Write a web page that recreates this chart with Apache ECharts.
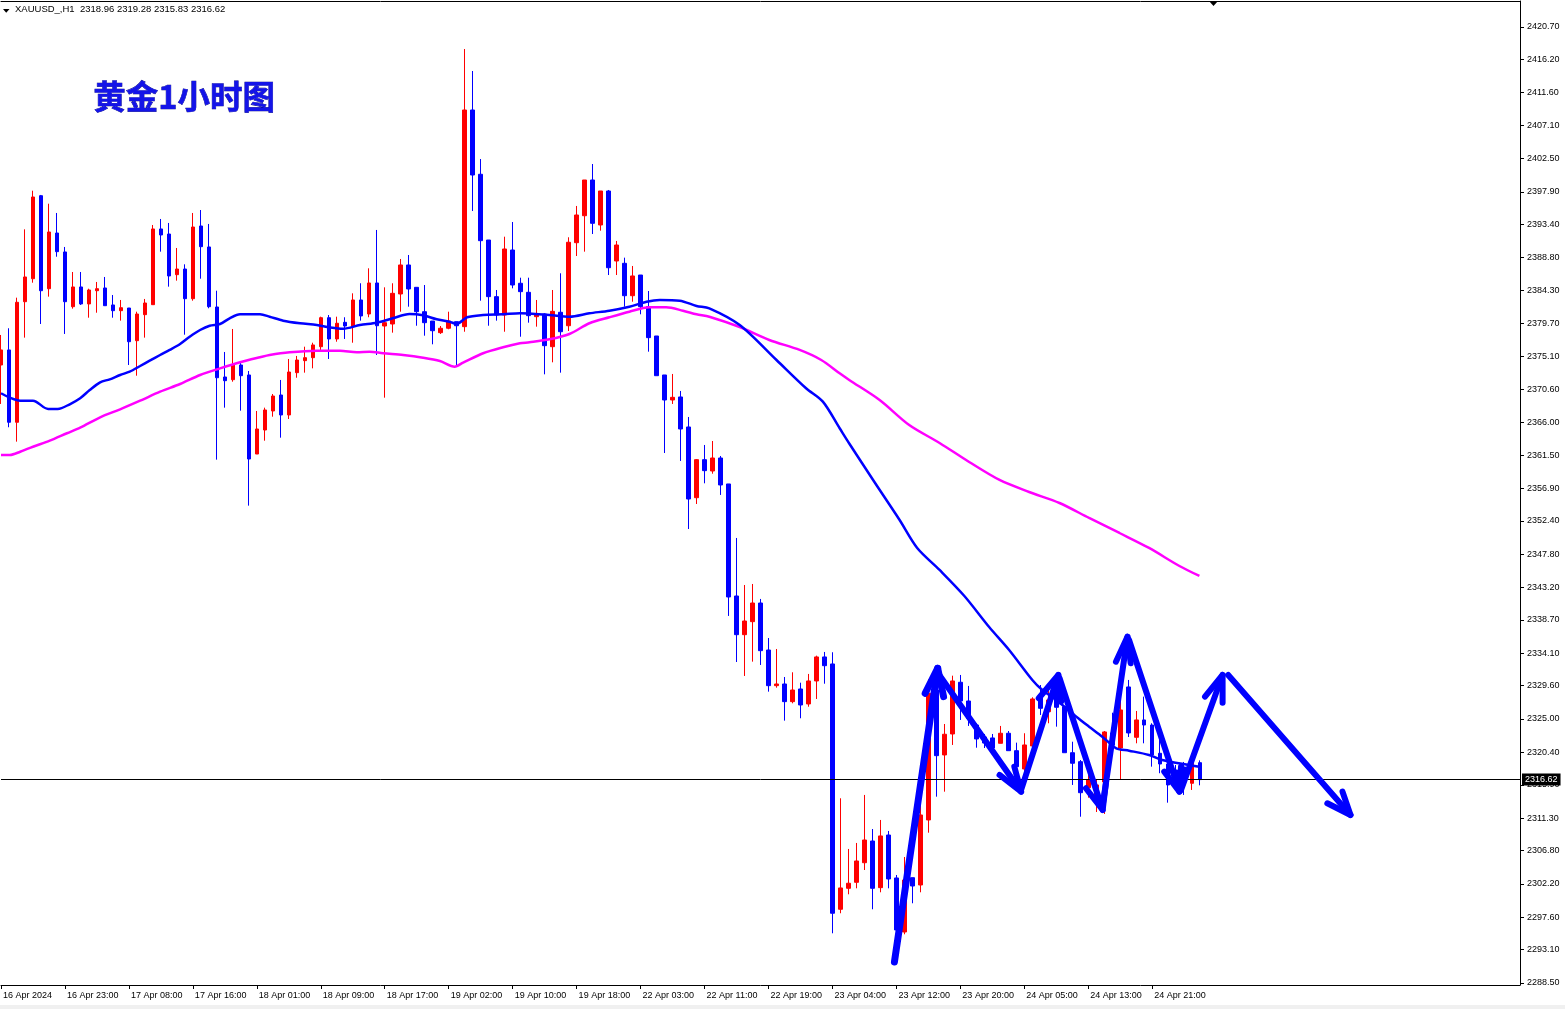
<!DOCTYPE html>
<html><head><meta charset="utf-8">
<script src="https://cdn.jsdelivr.net/npm/echarts@6/dist/echarts.min.js"></script>
<style>html,body{margin:0;padding:0;background:#fff;overflow:hidden}#c{width:1565px;height:1009px}</style>
</head><body><div id="c"></div>
<script>
// ---- data ----
// each bar: [open, close, low, high]
const candles = [
[2373.95,2376.03,2368.56,2378.10],[2376.03,2366.03,2365.34,2379.03],[2366.03,2382.62,2363.35,2383.26],[2382.70,2386.12,2377.73,2392.71],
[2385.88,2397.18,2385.33,2398.05],[2397.36,2384.22,2379.62,2397.46],[2384.50,2392.34,2383.40,2396.25],[2392.20,2389.62,2388.92,2394.97],
[2389.58,2382.70,2378.24,2390.27],[2382.01,2384.74,2381.74,2386.81],[2384.74,2382.39,2382.25,2386.81],[2382.39,2384.32,2380.49,2384.50],
[2384.22,2384.50,2381.18,2385.43],[2384.60,2382.15,2382.15,2386.12],[2382.25,2381.46,2380.49,2383.63],[2381.46,2381.87,2380.08,2382.94],
[2381.83,2377.17,2373.95,2381.83],[2377.31,2381.00,2372.47,2381.32],[2380.91,2382.52,2377.73,2383.08],[2382.29,2392.76,2382.29,2393.31],
[2392.76,2391.93,2389.62,2394.14],[2392.06,2386.26,2384.78,2393.59],[2386.44,2387.22,2385.61,2390.13],[2387.22,2383.12,2378.14,2387.87],
[2383.12,2393.03,2382.84,2394.97],[2393.17,2390.31,2385.88,2395.38],[2390.27,2382.01,2381.79,2393.45],[2381.97,2372.19,2360.86,2384.22],
[2372.29,2371.78,2368.05,2375.75],[2371.92,2373.95,2371.64,2378.93],[2373.95,2372.47,2367.63,2374.41],[2372.57,2360.95,2354.50,2373.12],
[2361.64,2365.10,2361.64,2367.59],[2364.96,2367.73,2363.48,2368.05],[2367.59,2369.66,2366.80,2369.94],[2369.80,2367.04,2363.90,2371.88],
[2367.04,2372.98,2366.48,2374.78],[2372.89,2374.64,2372.19,2375.20],[2374.55,2374.96,2372.89,2376.48],[2374.96,2376.72,2373.49,2377.03],
[2376.48,2380.49,2376.03,2380.63],[2380.49,2377.55,2374.78,2380.86],[2377.55,2379.72,2377.17,2380.63],[2379.85,2379.34,2377.55,2380.55],
[2379.34,2382.94,2377.03,2383.86],[2382.94,2380.73,2380.08,2385.25],[2381.00,2385.29,2380.55,2387.32],[2385.29,2379.38,2375.33,2392.62],
[2379.34,2379.80,2369.43,2384.69],[2379.62,2383.86,2378.42,2385.25],[2383.77,2387.78,2381.32,2388.61],[2387.78,2384.46,2382.01,2389.16],
[2384.69,2381.32,2379.38,2384.69],[2381.32,2379.80,2378.00,2385.01],[2380.03,2378.69,2376.81,2380.03],[2378.42,2379.03,2378.24,2379.34],
[2379.03,2380.03,2378.89,2381.32],[2379.94,2379.38,2373.95,2379.94],[2379.25,2409.21,2378.55,2417.64],[2409.21,2400.22,2395.24,2414.60],
[2400.32,2391.14,2382.84,2402.43],[2391.23,2383.40,2379.38,2391.23],[2383.40,2380.86,2380.08,2384.32],[2380.86,2389.99,2378.55,2391.69],
[2389.85,2385.01,2384.55,2393.72],[2385.25,2384.09,2377.86,2386.02],[2384.00,2380.77,2379.80,2386.02],[2380.63,2381.00,2379.25,2382.94],
[2381.00,2376.62,2372.66,2381.10],[2376.48,2381.37,2374.32,2384.32],[2381.24,2378.55,2372.89,2386.63],[2379.38,2390.92,2378.65,2391.61],
[2390.86,2394.69,2389.02,2395.94],[2394.59,2399.53,2389.62,2399.53],[2399.53,2393.54,2392.06,2401.74],[2393.31,2398.01,2392.52,2398.01],
[2398.01,2387.40,2386.39,2398.15],[2388.33,2390.54,2386.39,2391.10],[2388.01,2383.53,2382.01,2388.79],[2383.53,2386.26,2382.70,2387.64],
[2386.39,2382.01,2380.96,2386.39],[2382.01,2377.73,2375.79,2384.18],[2377.96,2372.47,2372.47,2377.96],[2372.57,2369.11,2361.78,2372.57],
[2369.11,2369.48,2368.56,2372.71],[2369.53,2365.10,2360.68,2370.36],[2365.38,2355.42,2351.27,2366.76],[2355.60,2360.86,2354.73,2360.95],
[2360.86,2359.34,2357.59,2362.89],[2359.29,2361.09,2358.92,2363.44],[2361.09,2357.36,2355.98,2361.37],[2357.50,2341.87,2339.25,2357.50],
[2342.01,2336.66,2332.88,2350.03],[2336.66,2338.55,2330.95,2343.53],[2338.46,2341.04,2332.93,2343.67],[2341.04,2334.45,2332.47,2341.60],
[2334.54,2329.61,2328.78,2336.20],[2329.61,2329.84,2329.33,2334.68],[2329.84,2327.40,2324.77,2330.81],[2327.40,2329.01,2327.17,2331.46],
[2329.15,2326.94,2325.10,2330.02],[2327.08,2330.26,2326.70,2331.23],[2330.26,2333.58,2327.77,2333.76],[2333.58,2332.37,2329.88,2334.27],
[2332.61,2298.14,2295.37,2334.23],[2298.69,2301.64,2298.14,2314.04],[2301.59,2302.29,2300.76,2307.03],[2302.42,2305.37,2301.59,2307.86],
[2305.13,2308.27,2304.12,2314.50],[2308.13,2301.59,2298.69,2309.79],[2301.68,2308.83,2301.04,2311.04],[2308.96,2302.88,2301.59,2309.52],
[2303.02,2295.83,2295.14,2303.43],[2295.55,2302.74,2295.23,2305.92],[2303.06,2301.91,2299.52,2303.06],[2302.05,2311.73,2301.04,2314.95],
[2311.04,2328.56,2309.28,2330.49],[2329.01,2319.93,2314.26,2330.40],[2320.03,2322.89,2314.95,2324.31],[2322.93,2330.26,2321.41,2330.99],
[2330.08,2327.49,2324.87,2331.09],[2327.49,2325.10,2324.04,2329.57],[2324.17,2322.24,2321.03,2324.41],[2322.51,2321.68,2320.99,2322.93],
[2322.38,2320.99,2320.44,2322.93],[2321.64,2323.03,2321.64,2324.04],[2323.03,2320.62,2320.62,2323.34],[2320.62,2318.41,2317.26,2321.73],
[2318.09,2321.41,2317.16,2323.03],[2321.27,2327.77,2320.72,2328.00],[2328.32,2326.48,2325.56,2329.70],[2326.01,2327.63,2324.41,2329.47],
[2329.47,2326.62,2323.94,2329.70],[2326.70,2320.34,2320.34,2326.70],[2320.34,2318.88,2315.88,2321.86],[2319.10,2314.81,2311.49,2319.33],
[2315.50,2316.57,2314.12,2317.72],[2313.80,2315.88,2312.14,2316.57],[2316.29,2323.21,2311.87,2323.34],[2323.07,2321.41,2320.72,2325.87],
[2320.99,2326.25,2316.57,2329.57],[2329.43,2323.07,2322.51,2330.40],[2322.47,2324.87,2321.64,2326.11],[2324.87,2324.17,2321.64,2328.09],
[2324.17,2320.03,2318.41,2324.41],[2320.26,2318.78,2317.50,2322.10],[2318.78,2315.88,2313.43,2319.10],[2317.95,2316.29,2315.19,2318.64],
[2318.37,2316.57,2314.50,2319.06],[2316.11,2319.10,2315.19,2319.33],[2318.96,2316.62,2315.83,2319.28]
];
const xTickLabels = ['16 Apr 2024','16 Apr 23:00','17 Apr 08:00','17 Apr 16:00','18 Apr 01:00','18 Apr 09:00','18 Apr 17:00',
 '19 Apr 02:00','19 Apr 10:00','19 Apr 18:00','22 Apr 03:00','22 Apr 11:00','22 Apr 19:00','23 Apr 04:00','23 Apr 12:00',
 '23 Apr 20:00','24 Apr 05:00','24 Apr 13:00','24 Apr 21:00'];
const yTickValues = [2420.70,2416.20,2411.60,2407.10,2402.50,2397.90,2393.40,2388.80,2384.30,2379.70,2375.10,2370.60,2366.00,
 2361.50,2356.90,2352.40,2347.80,2343.20,2338.70,2334.10,2329.60,2325.00,2320.40,2315.90,2311.30,2306.80,2302.20,2297.60,2293.10,2288.50];
// moving averages sampled along the bar index: [barIndex, price]
const maFast = [[0,2370.04],[1.1,2369.43],[2.4,2369.01],[4,2369.01],[5.9,2367.87],[7.1,2367.87],[8.6,2368.52],[9.9,2369.35],
 [11.1,2370.49],[12.4,2371.56],[13.6,2371.97],[14.9,2372.57],[16.1,2373.02],[17.4,2373.81],[18.6,2374.55],[19.9,2375.33],
 [21.1,2376.03],[22.4,2376.85],[23.6,2377.86],[24.9,2378.79],[26.1,2379.38],[27.4,2379.62],[28.6,2380.41],[29.9,2380.96],
 [32.4,2380.96],[33.6,2380.63],[35.3,2380.08],[37.4,2379.72],[39.5,2379.48],[41.1,2379.16],[42.8,2378.97],[44.9,2379.48],
 [47,2379.80],[49,2380.41],[51.1,2381.00],[52.8,2380.82],[54.5,2380.27],[56.1,2379.94],[57,2379.62],[58.3,2380.55],
 [60.3,2380.86],[62.8,2380.96],[64.9,2381.10],[68.6,2380.86],[71.1,2380.63],[73.6,2381.10],[76.1,2381.46],[78.6,2382.01],
 [80.75,2382.70],[82.4,2382.94],[84.9,2382.84],[87,2382.11],[88.6,2381.79],[92.4,2379.48],[97,2374.64],[100.7,2370.73],
 [102.8,2368.88],[104.9,2365.20],[106.1,2363.10],[109.25,2357.77],[112.4,2352.52],[114.6,2348.65],[117.4,2345.61],
 [120.5,2342.01],[123.6,2337.72],[126.1,2334.54],[129,2330.40],[130.25,2329.01],[132,2327.63],[134.5,2325.32],[136.1,2323.94],
 [137.75,2322.56],[139.5,2320.95],[141.1,2320.62],[143.6,2320.03],[145.25,2319.33],[148.6,2318.64],[149.9,2318.41]];
const maSlow = [[0,2361.51],[1.1,2361.51],[2.4,2361.96],[4,2362.65],[6.1,2363.48],[8.25,2364.51],[9.9,2365.28],[12.4,2366.72],
 [14.9,2367.82],[17.4,2369.01],[19.9,2370.26],[22.4,2371.32],[24.9,2372.57],[27.4,2373.49],[29.9,2374.32],[32.4,2375.02],
 [33.6,2375.33],[36.1,2375.71],[39.5,2375.93],[42.4,2375.93],[44.5,2375.71],[46.1,2375.79],[47.8,2375.57],[50.3,2375.33],
 [52.8,2374.96],[54.9,2374.50],[56.75,2373.72],[57.8,2374.27],[60.3,2375.57],[62.8,2376.40],[64.9,2376.95],[66.1,2377.09],
 [68.6,2377.50],[71.1,2378.24],[73.6,2379.72],[76.1,2380.55],[78.6,2381.32],[81.1,2381.93],[83.2,2381.93],[85.3,2381.46],
 [87,2380.96],[88.6,2380.63],[92.4,2379.20],[96.1,2377.41],[99.9,2376.03],[102.6,2374.64],[104.9,2372.80],[106.1,2371.88],
 [109.9,2369.11],[113.6,2365.65],[117.4,2363.17],[121.1,2360.54],[124.9,2358.05],[128.6,2356.39],[132.4,2354.87],
 [136.1,2352.80],[139.9,2350.72],[143.6,2348.65],[147.4,2346.16],[149.9,2344.78]];
// hand-drawn arrows: shaft tail -> tip, plus two barbs at the tip  ([barIndex, price])
const arrowTails = [[111.75,2291.40],[117.1,2331.50],[127.6,2315.19],[132.4,2330.67],[137.75,2312.70],[141.1,2335.93],[147.6,2315.19],[153.5,2331.09]];
const arrowTips  = [[117.16,2332.01],[127.6,2314.95],[132.25,2331.09],[137.8,2312.42],[140.9,2336.38],[147.4,2314.95],[152.8,2331.09],[168.8,2311.73]];
const arrowBarbA = [[115.6,2328.56],[124.9,2317.26],[129.8,2327.87],[135.7,2315.42],[139.46,2332.93],[145.5,2317.72],[150.6,2328.09],[165.9,2313.35]];
const arrowBarbB = [[117.9,2328.09],[126.75,2318.41],[132.6,2327.40],[138.2,2316.11],[141.3,2332.71],[147.6,2318.41],[152.8,2327.26],[167.8,2314.95]];
const lastPrice = 2316.62;
const headerText = 'XAUUSD_,H1  2318.96 2319.28 2315.83 2316.62';
const titleText = '黄金1小时图';
const SLOTS = 191;

// ---- chart ----
const FONT = '"Liberation Sans", Arial, sans-serif';
const slotNames = Array.from({length: SLOTS}, (_, i) => String(i));
const showTick = (i) => i % 8 === 0 && i / 8 < xTickLabels.length;
const BLUE = '#0000ff', RED = '#ff0000';

const series = [{
  type: 'candlestick', xAxisIndex: 0, yAxisIndex: 0, data: candles, barWidth: 4, z: 2,
  itemStyle: {color: RED, color0: BLUE, borderColor: RED, borderColor0: BLUE, borderWidth: 1},
  markLine: {
    symbol: 'none', silent: true, animation: false,
    lineStyle: {color: '#000', width: 1, type: 'solid'},
    label: {show: true, position: 'end', distance: 2, formatter: lastPrice.toFixed(2), color: '#fff',
      backgroundColor: '#000', padding: [2, 3, 1, 3], fontFamily: FONT, fontSize: 9},
    data: [{yAxis: lastPrice}]
  }
}, {
  type: 'line', xAxisIndex: 1, yAxisIndex: 0, data: maSlow, smooth: 0.3, showSymbol: false, z: 3,
  lineStyle: {color: '#ff00ff', width: 2.5}
}, {
  type: 'line', xAxisIndex: 1, yAxisIndex: 0, data: maFast, smooth: 0.3, showSymbol: false, z: 3,
  lineStyle: {color: BLUE, width: 2.5}
}];
arrowTips.forEach((tip, k) => {
  const ls = {color: BLUE, width: k === 0 ? 7 : 6, cap: 'round', join: 'round'};
  series.push({type: 'line', xAxisIndex: 1, yAxisIndex: 0, data: [arrowTails[k], tip], showSymbol: false, z: 6, lineStyle: ls});
  series.push({type: 'line', xAxisIndex: 1, yAxisIndex: 0, data: [arrowBarbA[k], tip, arrowBarbB[k]], showSymbol: false, z: 6, lineStyle: ls});
});

const chart = echarts.init(document.getElementById('c'), null, {renderer: 'canvas'});
chart.setOption({
  animation: false,
  backgroundColor: '#fff',
  grid: {left: 1, right: 45, top: 1, bottom: 24, containLabel: false},
  xAxis: [{
    type: 'category', data: slotNames, boundaryGap: false, position: 'bottom',
    axisLine: {show: true, lineStyle: {color: '#000', width: 1}},
    axisTick: {show: true, interval: (i) => showTick(i), length: 4, lineStyle: {color: '#000'}},
    axisLabel: {show: true, interval: (i) => showTick(i), formatter: (v, i) => xTickLabels[Math.round(i / 8)] || '',
      align: 'left', padding: [0, 0, 0, 2], margin: 6, color: '#000', fontFamily: FONT, fontSize: 9},
    splitLine: {show: false}
  }, {
    type: 'value', min: 0, max: SLOTS - 1, position: 'top', show: true,
    axisLine: {show: true, onZero: false, lineStyle: {color: '#000', width: 1}},
    axisTick: {show: false}, axisLabel: {show: false}, splitLine: {show: false}
  }],
  yAxis: [{
    type: 'value', position: 'right', min: 2288.22, max: 2424.28, scale: true,
    axisLine: {show: true, onZero: false, lineStyle: {color: '#000', width: 1}},
    axisTick: {show: true, length: 4, customValues: yTickValues, lineStyle: {color: '#000'}},
    axisLabel: {show: true, customValues: yTickValues, formatter: (v) => Number(v).toFixed(2), margin: 7,
      color: '#000', fontFamily: FONT, fontSize: 9},
    splitLine: {show: false}
  }],
  series: series,
  graphic: [
    {type: 'polygon', shape: {points: [[3, 9], [9.5, 9], [6.2, 12.7]]}, style: {fill: '#000'}, z: 10},
    {type: 'text', left: 15, top: 4, style: {text: headerText, fill: '#000', font: '9.5px ' + FONT}, z: 10},
    {type: 'polygon', shape: {points: [[1209, 1], [1218, 1], [1213.5, 6]]}, style: {fill: '#000'}, z: 10},
    {type: 'text', left: 93, top: 80, style: {text: titleText, fill: '#1414e8', stroke: '#00007a', lineWidth: 0.6,
      font: 'bold 32.5px "Noto Sans CJK SC", sans-serif'}, z: 10},
    {type: 'rect', shape: {x: 0, y: 1005, width: 1565, height: 4}, style: {fill: '#f0f0f0'}, z: 10}
  ]
});
</script></body></html>
